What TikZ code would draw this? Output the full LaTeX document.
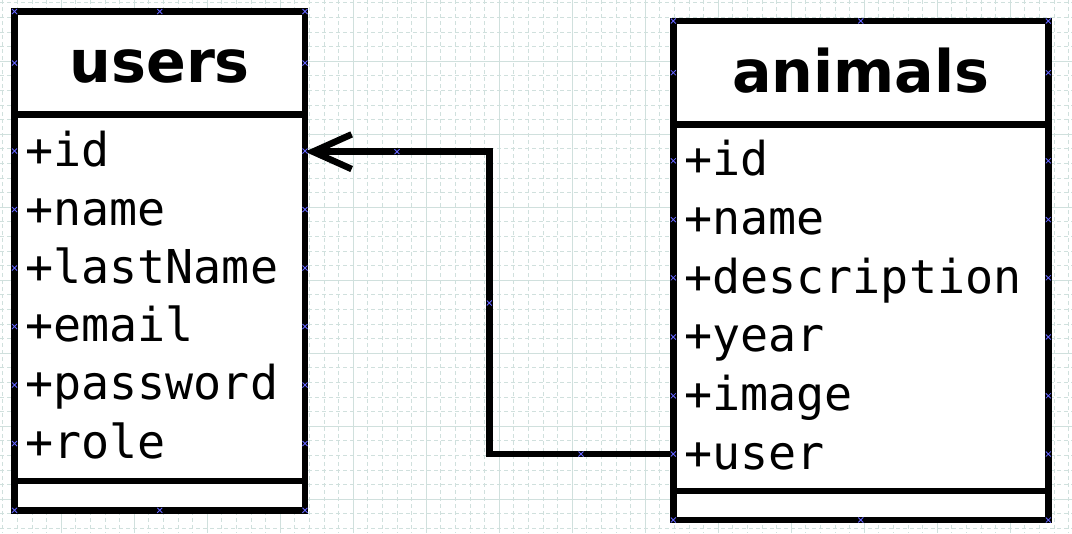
\documentclass[tikz,border=0pt]{standalone}
\usepackage{fontspec}
\setmainfont{DejaVu Sans}
\newfontfamily\monofont{DejaVu Sans Mono}
\usetikzlibrary{arrows.meta}
\definecolor{gridcol}{RGB}{208,224,221}
\definecolor{markblue}{RGB}{100,100,255}
\tikzset{
  classbox/.style={draw, fill=white, line width=4.9pt, inner sep=0pt, outer sep=0pt, anchor=north west},
  divider/.style={line width=4.9pt},
  title/.style={anchor=base, inner sep=0pt, font=\fontsize{44}{50}\selectfont\bfseries},
  attr/.style={anchor=base west, inner sep=0pt, font=\fontsize{35}{40}\selectfont\monofont},
  assoc/.style={line width=4.9pt, -{Straight Barb[length=29pt,width=26pt]}},
  xmk/.pic={\draw[markblue, line width=0.6pt] (-2.5,-2.5) -- (2.5,2.5) (-2.5,2.5) -- (2.5,-2.5);}
}
\begin{document}
\begin{tikzpicture}[x=0.75pt,y=-0.75pt]
    \useasboundingbox (0,0) rectangle (1072,533);

    % Draw the grid
    \foreach \k in {0,...,73}
        \draw[gridcol, line width=0.75pt, dash pattern=on 3pt off 2.25pt] ({2.9+14.6*\k},0) -- ({2.9+14.6*\k},533);
    \foreach \k in {0,...,36}
        \draw[gridcol, line width=0.75pt, dash pattern=on 3pt off 2.25pt] (0,{2.9+14.6*\k}) -- (1072,{2.9+14.6*\k});
    \foreach \k in {0,...,13}
        \draw[gridcol, line width=0.75pt] ({61.3+73*\k},0) -- ({61.3+73*\k},533);
    \foreach \k in {0,...,6}
        \draw[gridcol, line width=0.75pt] (0,{61.3+73*\k}) -- (1072,{61.3+73*\k});

    % Draw the classes
    \node[classbox, minimum width=217.9pt, minimum height=374.1pt] (users) at (14.5,11.5) {};
    \node[classbox, minimum width=281.25pt, minimum height=374.25pt] (animals) at (673.3,21) {};
    \draw[divider] (14.5,114.5) -- (305,114.5);
    \draw[divider] (14.5,481) -- (305,481);
    \draw[divider] (673.3,124.5) -- (1048.3,124.5);
    \draw[divider] (673.3,491) -- (1048.3,491);

    % Add the names and the fields
    \node[title] (users-title) at (159.75,82.7) {users};
    \node[title] (animals-title) at (860.8,92.7) {animals};
    \foreach \t [count=\i] in {id,name,lastName,email,password,role}
        \node[attr] (u-\t) at (25,{166.7+58.3*(\i-1)}) {+\t};
    \foreach \t [count=\i] in {id,name,description,year,image,user}
        \node[attr] (a-\t) at (684,{175.7+58.7*(\i-1)}) {+\t};

    % Draw the association
    \coordinate (u-id-e) at (305,151.7);
    \coordinate (a-user-w) at (673.3,454);
    \draw[assoc] (a-user-w) -- ++(-184,0) |- (u-id-e);

    % Draw the anchor marks
    \foreach \y in {11.5,63,151,209.5,268,326.5,385,443.5,510.3} {
        \pic at (14.5,\y) {xmk}; \pic at (305,\y) {xmk};
    }
    \pic at (159.75,11.5) {xmk}; \pic at (159.75,510.3) {xmk};
    \foreach \y in {21,72.7,160.8,219.6,277.8,337,395.8,454,520} {
        \pic at (673.3,\y) {xmk}; \pic at (1048.3,\y) {xmk};
    }
    \pic at (860.8,21) {xmk}; \pic at (860.8,520) {xmk};
    \pic at (397,151.7) {xmk}; \pic at (489.3,303) {xmk}; \pic at (581,454) {xmk};
\end{tikzpicture}
\end{document}
